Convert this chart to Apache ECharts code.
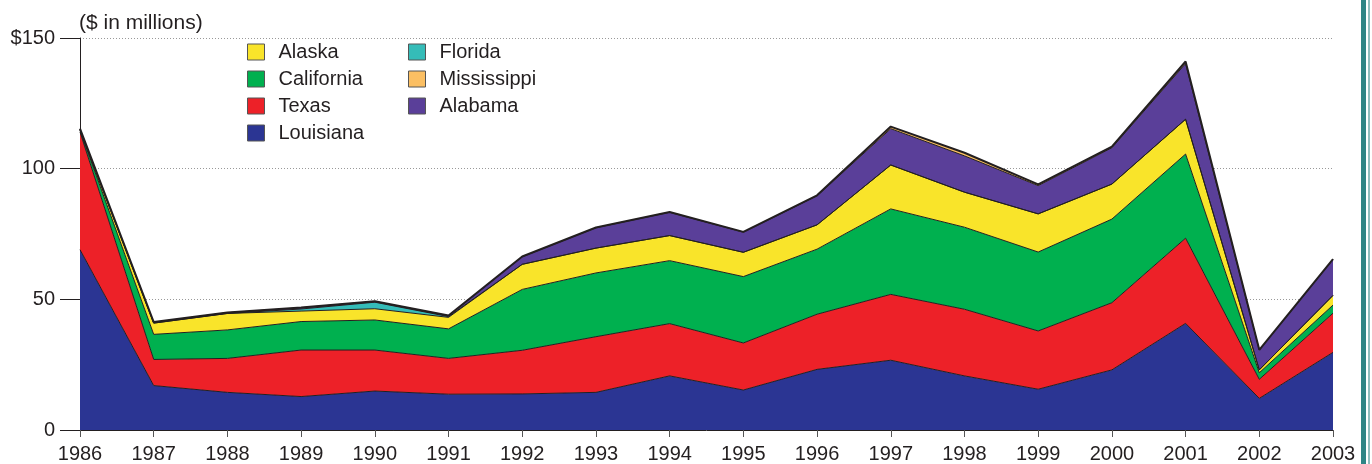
<!DOCTYPE html>
<html style="height: 100%">
<head>
    <meta charset="utf-8">
    <title>ECharts</title>
    <script src="https://cdn.jsdelivr.net/npm/echarts@6/dist/echarts.min.js"></script>
</head>
<body style="height: 100%; margin: 0; background: #fff">
<div id="main" style="width: 1372px; height: 464px"></div>
<script type="text/javascript">
    var years = ['1986', '1987', '1988', '1989', '1990', '1991', '1992', '1993', '1994',
        '1995', '1996', '1997', '1998', '1999', '2000', '2001', '2002', '2003'];
    // values in $ millions, stacked bottom to top
    var louisiana   = [69, 17.0, 14.4, 12.8, 14.9, 13.7, 13.8, 14.4, 20.7, 15.3, 23.2, 26.7, 20.7, 15.6, 23.0, 40.8, 12.1, 29.7];
    var texas       = [45, 10.0, 13.0, 17.8, 15.7, 13.7, 16.7, 21.3, 20.0, 18.0, 21.1, 25.2, 25.5, 22.3, 25.7, 32.6, 7.3, 15.0];
    var california  = [0.6, 9.6, 10.9, 10.9, 11.5, 11.3, 23.3, 24.4, 24.1, 25.4, 24.9, 32.7, 31.4, 30.2, 32.0, 32.2, 2.5, 3.1];
    var alaska      = [0.3, 4.3, 6.3, 4.0, 4.3, 4.4, 9.6, 9.5, 9.6, 9.3, 9.3, 16.8, 13.4, 14.6, 13.4, 13.3, 1.1, 3.7];
    var florida     = [0, 0, 0, 0.8, 2.5, 0.3, 0, 0, 0, 0, 0, 0, 0, 0, 0, 0, 0, 0];
    var alabama     = [0.2, 0.3, 0.3, 0.5, 0.3, 0.3, 2.9, 7.8, 8.9, 7.7, 11.1, 13.9, 13.9, 10.8, 13.9, 21.3, 7.6, 13.8];
    var mississippi = [0.2, 0.1, 0.1, 0.1, 0.1, 0.1, 0.1, 0.1, 0.1, 0.1, 0.2, 0.8, 1.2, 0.5, 0.4, 0.8, 0.1, 0.1];
    var yTicks = [0, 50, 100, 150];

    var ink = '#231f20';
    var font = 'Liberation Sans, Arial, sans-serif';

    function area(name, data, color, top) {
        return {
            name: name,
            type: 'line',
            stack: 'total',
            data: data,
            symbol: 'none',
            color: color,
            itemStyle: { color: color },
            lineStyle: { color: ink, width: top ? 2 : 1 },
            areaStyle: { color: color, opacity: 1 },
            emphasis: { disabled: true }
        };
    }

    var legendBase = {
        orient: 'vertical',
        icon: 'rect',
        itemWidth: 17,
        itemHeight: 16,
        itemGap: 7,
        selectedMode: false,
        itemStyle: { borderColor: '#555', borderWidth: 1 },
        textStyle: { color: ink, fontSize: 20, lineHeight: 17, fontFamily: font, padding: [0, 0, 0, 9] },
        padding: 0
    };

    var myChart = echarts.init(document.getElementById('main'));
    var option = {
        backgroundColor: '#fff',
        animation: false,
        grid: { left: 80, right: 39, top: 38, bottom: 34 },
        title: {
            text: '($ in millions)',
            left: 79, top: 13,
            textStyle: { color: ink, fontSize: 21, fontWeight: 'normal', fontFamily: font },
            padding: 0
        },
        legend: [
            Object.assign({}, legendBase, { left: 247, top: 42, data: ['Alaska', 'California', 'Texas', 'Louisiana'] }),
            Object.assign({}, legendBase, { left: 408, top: 42, data: ['Florida', 'Mississippi', 'Alabama'] })
        ],
        xAxis: {
            type: 'category',
            data: years,
            boundaryGap: false,
            axisLine: { lineStyle: { color: ink, width: 1 } },
            axisTick: { length: 7, lineStyle: { color: '#555' } },
            axisLabel: { color: ink, fontSize: 20, fontFamily: font, margin: 14 }
        },
        yAxis: {
            type: 'value',
            min: yTicks[0],
            max: yTicks[yTicks.length - 1],
            interval: 50,
            axisLine: { show: true, lineStyle: { color: ink, width: 1 } },
            axisTick: { show: true, length: 20, lineStyle: { color: ink } },
            axisLabel: {
                color: ink, fontSize: 20, fontFamily: font, margin: 25,
                formatter: function (v) { return v === 150 ? '$150' : String(v); }
            },
            splitLine: { show: true, lineStyle: { color: '#999', type: [1, 2], width: 1 } }
        },
        series: [
            area('Louisiana', louisiana, '#2b3593'),
            area('Texas', texas, '#ed2128'),
            area('California', california, '#00b04f'),
            area('Alaska', alaska, '#f9e42a'),
            area('Florida', florida, '#35bcb8'),
            area('Alabama', alabama, '#5a3f99'),
            area('Mississippi', mississippi, '#fbbf63', true)
        ],
        graphic: [
            { type: 'rect', shape: { x: 1361, y: 0, width: 5, height: 464 }, style: { fill: '#2f8585' } },
            { type: 'rect', shape: { x: 1368, y: 0, width: 2, height: 464 }, style: { fill: '#8fbdbd' } }
        ]
    };
    myChart.setOption(option);
</script>
</body>
</html>
